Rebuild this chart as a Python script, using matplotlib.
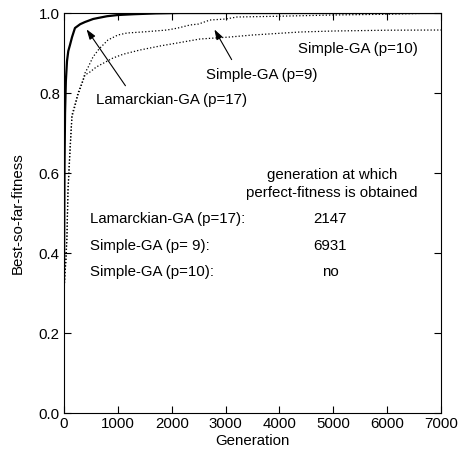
import matplotlib
matplotlib.use("Agg")
import matplotlib.pyplot as plt

plt.rcParams["font.family"] = ["Liberation Sans", "DejaVu Sans"]
plt.rcParams["font.size"] = 10.8

# best-so-far fitness curves
lam_gen = [0, 10, 20, 35, 56, 80, 111, 150, 204, 300, 390, 540, 630, 800,
           1000, 1300, 1700, 2147, 7000]
lam_fit = [0.33, 0.62, 0.75, 0.83, 0.88, 0.905, 0.92, 0.94, 0.9625, 0.972,
           0.9775, 0.985, 0.9875, 0.992, 0.995, 0.997, 0.999, 1.0, 1.0]

p9_gen = [0, 20, 37, 56, 74, 111, 148, 200, 260, 352, 390, 450, 538, 650,
          816, 1000, 1169, 1500, 1911, 2100, 2338, 2500, 2709, 3000, 3210,
          4000, 4990, 6000, 6931, 7000]
p9_fit = [0.3, 0.36, 0.39, 0.45, 0.56, 0.66, 0.745, 0.77, 0.8, 0.8325, 0.85,
          0.865, 0.89, 0.91, 0.9325, 0.945, 0.95, 0.953, 0.9575, 0.962, 0.97,
          0.9725, 0.9825, 0.985, 0.99, 0.992, 0.995, 0.997, 1.0, 1.0]

p10_gen = [0, 20, 37, 56, 74, 111, 148, 200, 260, 352, 390, 482, 600, 909,
           1100, 1410, 1800, 2208, 2523, 3080, 3500, 4378, 5000, 6000, 7000]
p10_fit = [0.3, 0.35, 0.38, 0.44, 0.55, 0.65, 0.74, 0.765, 0.795, 0.83,
           0.845, 0.8525, 0.865, 0.8875, 0.897, 0.9075, 0.918, 0.9275, 0.935,
           0.94, 0.945, 0.9525, 0.955, 0.957, 0.9575]

table_names = ["Lamarckian-GA (p=17):", "Simple-GA (p= 9):", "Simple-GA (p=10):"]
table_values = ["2147", "6931", "no"]

fig = plt.figure(figsize=(4.58, 4.55), dpi=100)
ax = fig.add_axes([0.1397, 0.0923, 0.8233, 0.8791])

ax.plot(p10_gen, p10_fit, color="black", linestyle=":", linewidth=0.9)
ax.plot(p9_gen, p9_fit, color="black", linestyle=":", linewidth=0.9)
ax.plot(lam_gen, lam_fit, color="black", linewidth=1.6)

ax.set_xlim(0, 7000)
ax.set_ylim(0, 1.0)
ax.set_xticks(range(0, 7001, 1000))
ax.set_yticks([0.0, 0.2, 0.4, 0.6, 0.8, 1.0])
ax.set_yticklabels(["0.0", "0.2", "0.4", "0.6", "0.8", "1.0"])
ax.tick_params(direction="in", top=True, right=True, length=5, width=0.8,
               pad=3)
ax.set_xlabel("Generation", labelpad=2)
ax.set_ylabel("Best-so-far-fitness", labelpad=10)

# curve labels with arrows
ax.text(4345, 0.91, "Simple-GA (p=10)", va="center")
ax.text(2637, 0.845, "Simple-GA (p=9)", va="center")
ax.text(594, 0.7825, "Lamarckian-GA (p=17)", va="center")
ax.annotate("", xy=(2767, 0.965), xytext=(3138, 0.8775),
            arrowprops=dict(arrowstyle="-|>,head_width=0.2,head_length=0.6",
                            color="black", lw=0.8, mutation_scale=10))
ax.annotate("", xy=(390, 0.965), xytext=(1170, 0.8125),
            arrowprops=dict(arrowstyle="-|>,head_width=0.2,head_length=0.6",
                            color="black", lw=0.8, mutation_scale=10))

# table of generations
ax.text(4980, 0.595, "generation at which", ha="center", va="center")
ax.text(4980, 0.55, "perfect-fitness is obtained", ha="center", va="center")
rows_y = [0.485, 0.4175, 0.3525]
for name, val, yy in zip(table_names, table_values, rows_y):
    ax.text(483, yy, name, va="center")
    ax.text(4940, yy, val, ha="center", va="center")

fig.savefig("out.png", dpi=100)
